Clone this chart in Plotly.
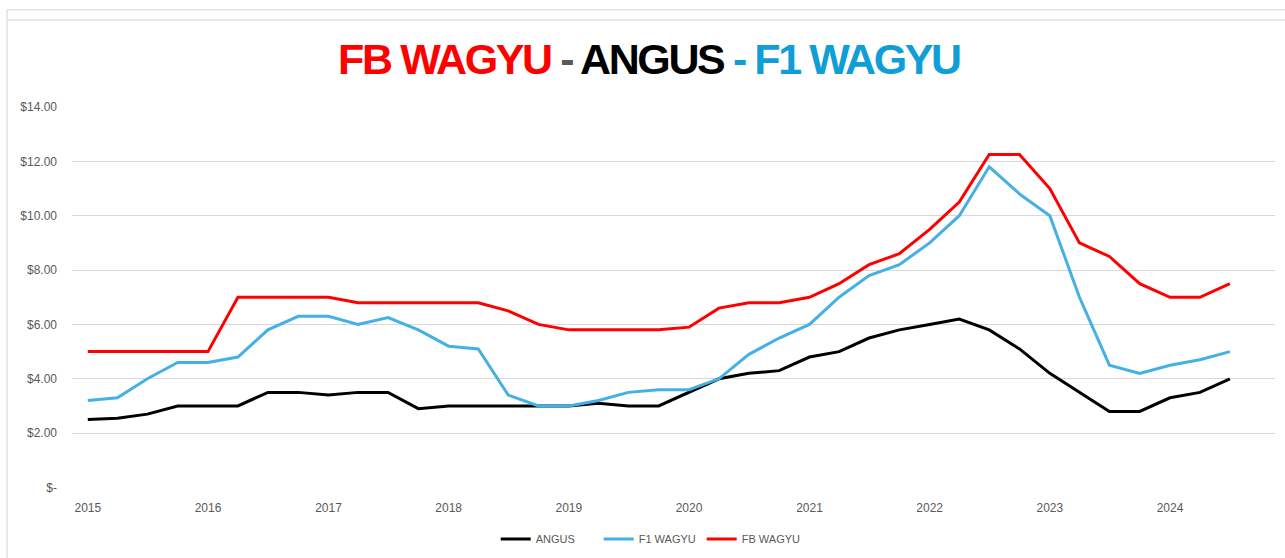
import plotly.graph_objects as go

quarters = [
    "2015-01-01", "2015-04-01", "2015-07-01", "2015-10-01",
    "2016-01-01", "2016-04-01", "2016-07-01", "2016-10-01",
    "2017-01-01", "2017-04-01", "2017-07-01", "2017-10-01",
    "2018-01-01", "2018-04-01", "2018-07-01", "2018-10-01",
    "2019-01-01", "2019-04-01", "2019-07-01", "2019-10-01",
    "2020-01-01", "2020-04-01", "2020-07-01", "2020-10-01",
    "2021-01-01", "2021-04-01", "2021-07-01", "2021-10-01",
    "2022-01-01", "2022-04-01", "2022-07-01", "2022-10-01",
    "2023-01-01", "2023-04-01", "2023-07-01", "2023-10-01",
    "2024-01-01", "2024-04-01", "2024-07-01",
]

angus = [2.5, 2.55, 2.7, 3.0,
         3.0, 3.0, 3.5, 3.5,
         3.4, 3.5, 3.5, 2.9,
         3.0, 3.0, 3.0, 3.0,
         3.0, 3.1, 3.0, 3.0,
         3.5, 4.0, 4.2, 4.3,
         4.8, 5.0, 5.5, 5.8,
         6.0, 6.2, 5.8, 5.1,
         4.2, 3.5, 2.8, 2.8,
         3.3, 3.5, 4.0]

f1_wagyu = [3.2, 3.3, 4.0, 4.6,
            4.6, 4.8, 5.8, 6.3,
            6.3, 6.0, 6.25, 5.8,
            5.2, 5.1, 3.4, 3.0,
            3.0, 3.2, 3.5, 3.6,
            3.6, 4.0, 4.9, 5.5,
            6.0, 7.0, 7.8, 8.2,
            9.0, 10.0, 11.8, 10.8,
            10.0, 7.0, 4.5, 4.2,
            4.5, 4.7, 5.0]

fb_wagyu = [5.0, 5.0, 5.0, 5.0,
            5.0, 7.0, 7.0, 7.0,
            7.0, 6.8, 6.8, 6.8,
            6.8, 6.8, 6.5, 6.0,
            5.8, 5.8, 5.8, 5.8,
            5.9, 6.6, 6.8, 6.8,
            7.0, 7.5, 8.2, 8.6,
            9.5, 10.5, 12.25, 12.25,
            11.0, 9.0, 8.5, 7.5,
            7.0, 7.0, 7.5]

y_ticks = [0, 2, 4, 6, 8, 10, 12, 14]
y_tick_labels = ["$-", "$2.00", "$4.00", "$6.00", "$8.00", "$10.00", "$12.00", "$14.00"]

series = [
    ("ANGUS", angus, "#000000"),
    ("F1 WAGYU", f1_wagyu, "#45B0E4"),
    ("FB WAGYU", fb_wagyu, "#FF0000"),
]

fig = go.Figure()
for name, vals, color in series:
    fig.add_trace(go.Scatter(
        x=quarters, y=vals, name=name, mode="lines",
        line=dict(color=color, width=3),
    ))

ls = "letter-spacing:-2.4px;"
title_text = (
    f"<span style='{ls}color:#FF0000'>FB WAGYU</span>"
    f"<span style='{ls}color:#595959'> - </span>"
    f"<span style='{ls}color:#000000'>ANGUS</span>"
    f"<span style='{ls}color:#0F9ED5'> - F1 WAGYU</span>"
)

fig.update_layout(
    width=1285, height=558,
    margin=dict(l=72, r=10, t=107, b=66),
    paper_bgcolor="white", plot_bgcolor="white",
    font=dict(family="Liberation Sans, Arial, sans-serif", size=11, color="#595959"),
    title=dict(
        text="<b>" + title_text + "</b>",
        font=dict(family="Liberation Sans, Arial, sans-serif", size=43),
        x=0.505, xanchor="center", xref="container",
        y=1 - 59 / 558, yanchor="middle", yref="container",
    ),
    xaxis=dict(
        type="date",
        range=["2014-11-14", "2024-11-15"],
        tick0="2015-01-01", dtick="M12", tickformat="%Y",
        showgrid=False, zeroline=False, showline=False,
        ticks="", ticklabelstandoff=11,
        tickfont=dict(size=12, color="#595959"),
    ),
    yaxis=dict(
        range=[0, 14],
        tickvals=y_ticks, ticktext=y_tick_labels,
        showgrid=True, gridcolor="#D9D9D9", gridwidth=1,
        zeroline=False, showline=False, ticks="",
        ticklabelstandoff=14,
        tickfont=dict(size=12, color="#595959"),
    ),
    legend=dict(
        orientation="h", xref="container", yref="container",
        x=0.506, xanchor="center", y=1 - 539 / 558, yanchor="middle",
        font=dict(size=11, color="#595959"),
        itemwidth=30, bgcolor="rgba(0,0,0,0)",
        entrywidth=58,
    ),
    showlegend=True,
)

# chart frame lines
px2x = lambda px: (px - 72) / 1203
py2y = lambda py: (492 - py) / 385
border = "#E2E2E2"
fig.add_shape(type="line", xref="paper", yref="paper",
              x0=px2x(7), x1=px2x(1290), y0=py2y(8.5), y1=py2y(8.5),
              line=dict(color=border, width=1.5))
fig.add_shape(type="line", xref="paper", yref="paper",
              x0=px2x(7), x1=px2x(1290), y0=py2y(19), y1=py2y(19),
              line=dict(color=border, width=1.5))
fig.add_shape(type="line", xref="paper", yref="paper",
              x0=px2x(7), x1=px2x(7), y0=py2y(8.5), y1=py2y(570),
              line=dict(color=border, width=1.5))

fig.write_html("out.html", config={"displayModeBar": False},
               post_script="document.body.style.margin='0';document.body.style.overflow='hidden';")
